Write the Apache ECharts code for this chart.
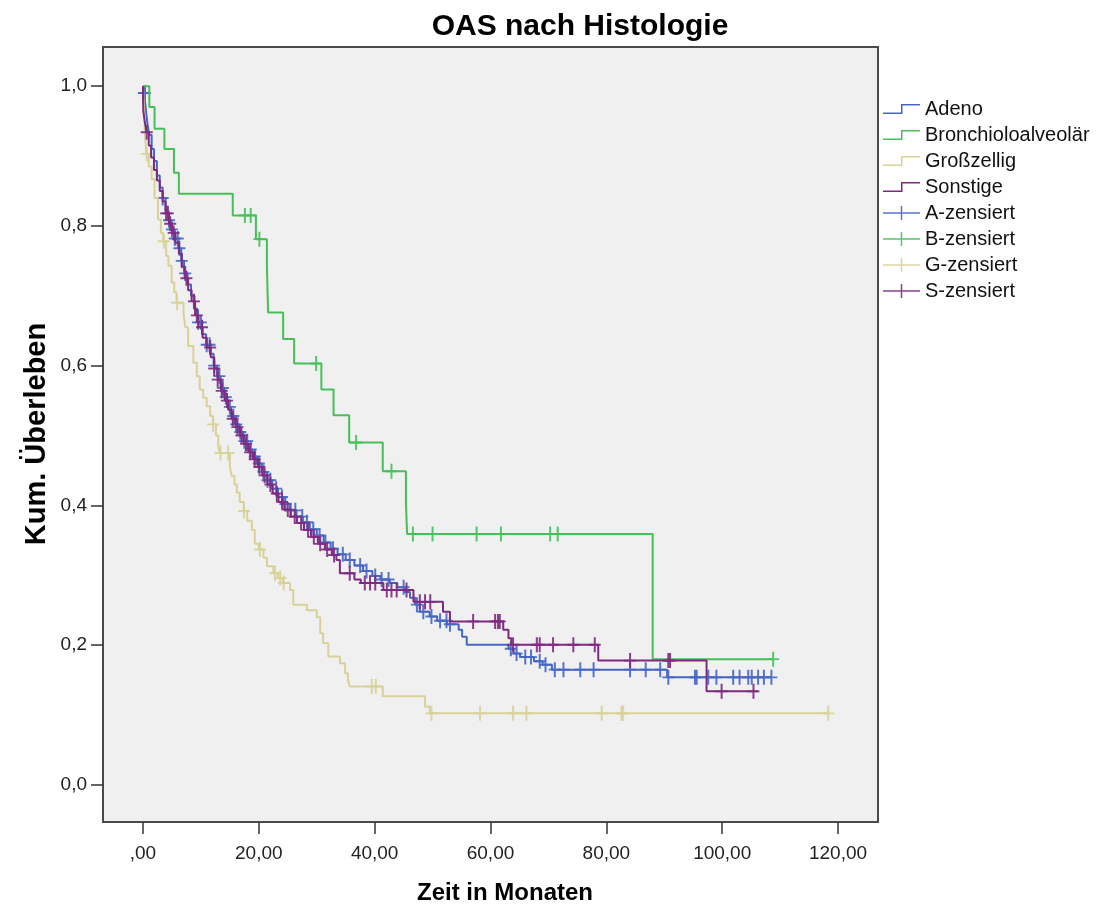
<!DOCTYPE html>
<html>
<head>
<meta charset="utf-8">
<script src="https://cdn.jsdelivr.net/npm/echarts@6/dist/echarts.min.js"></script>
<style>
html,body{margin:0;padding:0;background:#fff;}
#chart{width:1106px;height:906px;}
</style>
</head>
<body>
<div id="chart"></div>
<script>
// ---- Data ----
const titleText = 'OAS nach Histologie';
const xAxisTitle = 'Zeit in Monaten';
const yAxisTitle = 'Kum. Überleben';

const xTickValues = [0, 20, 40, 60, 80, 100, 120];
const xTickLabels = [',00', '20,00', '40,00', '60,00', '80,00', '100,00', '120,00'];
const yTickValues = [0, 0.2, 0.4, 0.6, 0.8, 1.0];
const yTickLabels = ['0,0', '0,2', '0,4', '0,6', '0,8', '1,0'];

const groupNames = ['Adeno', 'Bronchioloalveolär', 'Großzellig', 'Sonstige'];
const censorNames = ['A-zensiert', 'B-zensiert', 'G-zensiert', 'S-zensiert'];

// Kaplan-Meier steps: [time in months, cumulative survival after the drop]
const adenoSteps = [[0,1.0],[0.1,0.99],[0.4,0.975],[0.6,0.958],[0.8,0.945],[1.1,0.930],[1.5,0.910],[1.9,0.893],[2.4,0.872],[2.9,0.855],[3.4,0.840],[3.9,0.822],[4.4,0.808],[4.9,0.795],[5.5,0.782],[6.1,0.768],[6.6,0.750],[7.1,0.732],[7.7,0.716],[8.3,0.700],[8.9,0.680],[9.5,0.662],[10.2,0.645],[10.9,0.630],[11.6,0.617],[12.2,0.600],[12.8,0.585],[13.4,0.568],[14.0,0.555],[14.6,0.541],[15.2,0.528],[15.9,0.516],[16.6,0.505],[17.3,0.492],[18.1,0.480],[18.9,0.470],[19.7,0.460],[20.5,0.448],[21.4,0.436],[22.3,0.424],[23.3,0.412],[24.3,0.402],[25.4,0.393],[26.5,0.384],[27.6,0.376],[28.8,0.366],[30.0,0.357],[31.2,0.347],[32.4,0.338],[33.6,0.330],[35.0,0.322],[36.5,0.314],[38.0,0.306],[39.6,0.299],[41.0,0.294],[42.6,0.289],[43.9,0.283],[45.2,0.276],[46.1,0.268],[47.0,0.258],[47.8,0.248],[49.5,0.241],[50.8,0.235],[52.5,0.230],[54.5,0.222],[55.1,0.212],[55.9,0.2006],[63.1,0.195],[64.0,0.188],[65.1,0.183],[67.5,0.177],[69.0,0.172],[70.6,0.165],[90.5,0.154],[108.5,0.154]];
const bronchSteps = [[0,1.0],[1.1,0.970],[2.0,0.939],[3.7,0.910],[5.35,0.876],[6.2,0.846],[15.5,0.815],[19.5,0.781],[21.4,0.742],[21.6,0.676],[24.2,0.638],[26.1,0.603],[30.8,0.566],[32.9,0.529],[35.6,0.490],[41.4,0.449],[45.4,0.404],[45.6,0.359],[88.0,0.180],[108.8,0.180]];
const grossSteps = [[0,1.0],[0.2,0.965],[0.35,0.929],[0.6,0.903],[1.0,0.885],[1.5,0.867],[2.0,0.840],[2.6,0.809],[3.1,0.790],[3.5,0.778],[4.0,0.757],[4.4,0.743],[4.95,0.719],[5.4,0.705],[5.8,0.690],[7.0,0.676],[7.3,0.655],[7.8,0.628],[8.7,0.604],[9.3,0.585],[9.8,0.566],[10.4,0.554],[11.0,0.542],[11.6,0.528],[12.1,0.516],[12.6,0.500],[13.0,0.485],[13.3,0.475],[15.0,0.456],[15.3,0.442],[15.8,0.430],[16.2,0.418],[16.7,0.405],[17.4,0.392],[18.0,0.378],[18.8,0.365],[19.3,0.345],[20.0,0.337],[20.8,0.325],[21.4,0.313],[22.5,0.303],[23.3,0.296],[24.2,0.289],[25.4,0.279],[25.95,0.258],[28.3,0.250],[30.0,0.240],[30.6,0.217],[31.1,0.203],[32.0,0.184],[34.0,0.174],[34.9,0.160],[35.4,0.150],[35.7,0.141],[41.4,0.127],[48.7,0.112],[49.5,0.1025],[118.3,0.1025]];
const sonstSteps = [[0,1.0],[0.05,0.965],[0.3,0.950],[0.6,0.934],[1.0,0.915],[1.4,0.898],[1.9,0.880],[2.4,0.865],[2.9,0.850],[3.4,0.835],[3.9,0.818],[4.5,0.803],[5.0,0.790],[5.6,0.776],[6.2,0.760],[6.7,0.742],[7.2,0.725],[7.8,0.708],[8.4,0.692],[9.0,0.672],[9.6,0.655],[10.3,0.640],[11.0,0.626],[11.7,0.612],[12.3,0.596],[12.9,0.580],[13.5,0.564],[14.1,0.550],[14.7,0.537],[15.3,0.524],[16.0,0.512],[16.7,0.500],[17.4,0.488],[18.2,0.476],[19.0,0.466],[19.8,0.455],[20.6,0.443],[21.5,0.430],[22.4,0.417],[23.4,0.405],[24.4,0.394],[25.5,0.384],[26.6,0.375],[27.8,0.365],[29.0,0.355],[30.2,0.345],[31.4,0.337],[32.6,0.329],[33.4,0.322],[34.0,0.303],[36.5,0.294],[37.6,0.289],[41.5,0.279],[46.7,0.262],[51.8,0.248],[53.0,0.234],[62.2,0.222],[63.1,0.210],[63.6,0.2006],[78.6,0.178],[97.3,0.134],[106.2,0.134]];

// Censoring times (months)
const adenoCensor = [0.15,0.25,0.35,3.4,4.5,5.0,5.5,6.0,6.3,6.7,7.3,9.5,10.0,11.0,11.5,12.3,13.2,13.8,14.3,15.0,15.6,16.1,16.8,17.5,18.0,18.6,19.3,20.0,20.8,21.5,22.0,23.0,24.0,24.6,25.5,26.3,27.5,28.3,29.4,30.5,31.5,32.8,34.5,35.7,37.5,38.6,40.1,41.2,42.4,45.0,47.3,48.4,49.8,51.3,52.4,53.0,63.5,64.5,66.0,67.0,68.5,69.5,71.1,72.6,75.5,77.8,84.1,86.8,89.3,90.7,95.3,95.6,97.6,99.0,101.9,103.0,104.5,105.1,106.2,107.2,108.5];
const bronchCensor = [17.6,18.6,20.1,29.9,36.8,42.9,46.6,50.0,57.6,61.8,70.3,71.6,108.8];
const grossCensor = [0.65,3.6,5.9,12.1,13.4,14.7,17.45,20.2,22.8,23.7,24.3,39.5,40.2,49.8,58.2,63.9,66.2,79.2,82.6,82.9,118.3];
const sonstCensor = [0.65,4.0,4.3,4.7,5.3,7.5,8.8,9.3,10.2,11.6,12.3,12.9,13.6,14.5,15.5,16.3,17.0,17.8,18.5,19.3,20.1,21.0,22.0,23.1,24.0,25.0,26.2,27.3,28.5,29.5,30.6,31.8,33.0,35.7,38.3,39.2,40.1,42.1,42.9,43.8,45.5,47.8,48.7,49.6,57.0,60.8,61.3,61.6,63.9,68.0,68.5,70.8,74.3,78.0,84.1,90.7,91.0,99.9,105.4];

const groupColors = ['#4766c4', '#45c058', '#d8d198', '#7e2a80'];

// ---- Build chart ----
function survAt(steps, t) {
  let s = steps[0][1];
  for (const p of steps) { if (p[0] <= t) s = p[1]; }
  return s;
}
const allSteps = [adenoSteps, bronchSteps, grossSteps, sonstSteps];
const allCensor = [adenoCensor, bronchCensor, grossCensor, sonstCensor];

const FONT = '"Liberation Sans", Arial, sans-serif';
const plusSymbol = 'path://M5,0 H7 V7 H12 V9 H7 V16 H5 V9 H0 V7 H5 Z';
const stepIcon = 'path://M0,8.5 H18 V0 H37 V1.5 H19.5 V10 H0 Z';
const plusIcon = 'path://M0,6.25 H17.75 V0 H19.25 V6.25 H37 V7.75 H19.25 V14 H17.75 V7.75 H0 Z';

const series = [];
for (let i = 0; i < 4; i++) {
  series.push({
    name: groupNames[i], type: 'line', step: 'end',
    data: allSteps[i], showSymbol: false, symbol: 'none',
    color: groupColors[i],
    lineStyle: { width: 2, color: groupColors[i] },
    z: 2 + i, silent: true
  });
}
for (let i = 0; i < 4; i++) {
  series.push({
    name: censorNames[i], type: 'scatter',
    data: allCensor[i].map(t => [t, survAt(allSteps[i], t)]),
    symbol: plusSymbol, symbolSize: [12, 15],
    color: groupColors[i],
    itemStyle: { color: groupColors[i], opacity: 0.9 },
    z: 2 + i, silent: true
  });
}

const legendData = [];
for (let i = 0; i < 4; i++) legendData.push({ name: groupNames[i], icon: stepIcon, itemStyle: { color: groupColors[i], borderWidth: 0 } });
for (let i = 0; i < 4; i++) legendData.push({ name: censorNames[i], icon: plusIcon, itemStyle: { color: groupColors[i], borderWidth: 0 } });

const chart = echarts.init(document.getElementById('chart'), null, { renderer: 'canvas' });
chart.setOption({
  animation: false,
  backgroundColor: '#ffffff',
  grid: {
    left: 103, right: 228, top: 47, bottom: 84,
    show: true, backgroundColor: '#f0f0f0', borderColor: '#4a4a4a', borderWidth: 2
  },
  xAxis: {
    type: 'value', min: -6.9, max: 126.9,
    axisLine: { show: false, onZero: false },
    splitLine: { show: false },
    axisTick: { show: true, inside: false, length: 12, lineStyle: { color: '#333', width: 1.5 }, customValues: xTickValues },
    axisLabel: {
      show: true, margin: 22, color: '#222', fontSize: 19, fontFamily: FONT,
      customValues: xTickValues,
      formatter: v => xTickLabels[xTickValues.indexOf(Math.round(v))]
    }
  },
  yAxis: {
    type: 'value', min: -0.053, max: 1.056,
    axisLine: { show: false, onZero: false },
    splitLine: { show: false },
    axisTick: { show: true, inside: false, length: 12, lineStyle: { color: '#333', width: 1.5 }, customValues: yTickValues },
    axisLabel: {
      show: true, margin: 16, color: '#222', fontSize: 19, fontFamily: FONT,
      customValues: yTickValues,
      formatter: v => yTickLabels[yTickValues.findIndex(x => Math.abs(x - v) < 1e-6)]
    }
  },
  legend: {
    show: true, orient: 'vertical', left: 878, top: 94,
    itemWidth: 37, itemHeight: 14, itemGap: 6,
    selectedMode: false,
    textStyle: { fontSize: 20, fontFamily: FONT, color: '#111', lineHeight: 20 },
    data: legendData
  },
  graphic: [
    { type: 'text', style: { text: titleText, x: 580, y: 27, align: 'center', verticalAlign: 'middle', font: 'bold 30px ' + FONT, fill: '#000' } },
    { type: 'text', style: { text: xAxisTitle, x: 505, y: 893, align: 'center', verticalAlign: 'middle', font: 'bold 24px ' + FONT, fill: '#000' } },
    { type: 'text', x: 37, y: 434, rotation: Math.PI / 2, style: { text: yAxisTitle, x: 0, y: 0, align: 'center', verticalAlign: 'middle', font: 'bold 29px ' + FONT, fill: '#000' } }
  ],
  series: series
});
</script>
</body>
</html>
